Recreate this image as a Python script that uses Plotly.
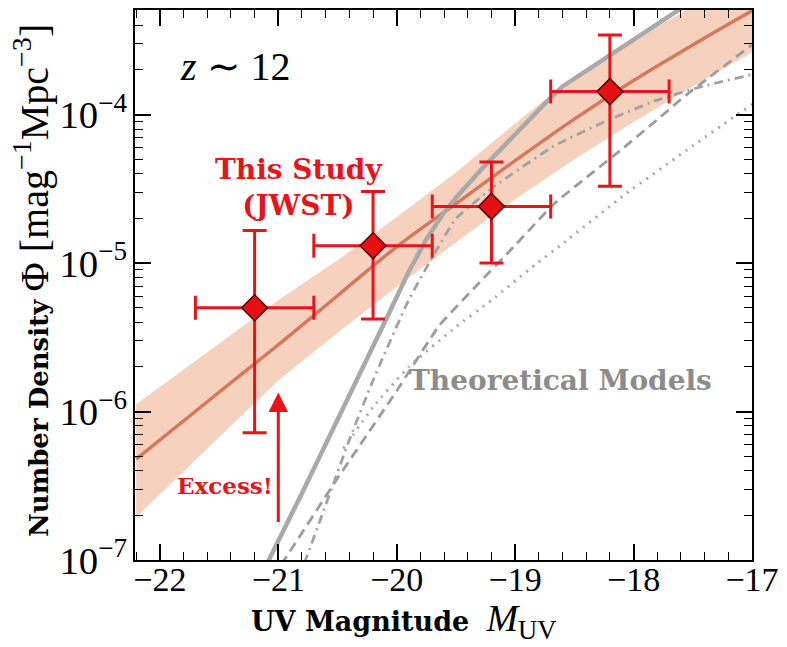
import numpy as np
import plotly.graph_objects as go

# ---------------- data ----------------
# JWST points (UV magnitude, number density, asymmetric errors)
obs_M = [-21.2, -20.2, -19.2, -18.2]
obs_phi = [5.0e-6, 1.31e-5, 2.41e-5, 1.43e-4]
obs_phi_hi = [1.66e-5, 3.04e-5, 4.8e-5, 3.44e-4]
obs_phi_lo = [7.2e-7, 4.2e-6, 1.0e-5, 3.3e-5]
obs_M_err = [0.5, 0.5, 0.5, 0.5]

# best-fit function and its uncertainty band (log10 Phi)
fit_M = [-22.2, -21.5, -21.0, -20.5, -20.0, -19.5, -19.0, -18.5, -18.0, -17.5, -17.0]
fit_log = [-6.32, -5.87, -5.55, -5.22, -4.89, -4.60, -4.31, -4.03, -3.77, -3.53, -3.30]
band_hi_log = [-5.95, -5.54, -5.25, -4.98, -4.69, -4.39, -4.06, -3.74, -3.50, -3.27, -3.03]
band_lo_log = [-6.71, -6.17, -5.79, -5.47, -5.16, -4.86, -4.57, -4.30, -4.05, -3.81, -3.58]

# theoretical models (log10 Phi)
solid_M = [-21.2, -21.08, -20.8, -20.5, -20.25, -20.06, -19.9, -19.75, -19.61, -19.5, -19.275, -19.0, -18.73, -18.6, -18.45, -18.2, -17.9, -17.64, -17.4]
solid_log = [-7.18, -7.0, -6.55, -6.06, -5.65, -5.33, -5.06, -4.84, -4.67, -4.56, -4.36, -4.13, -3.91, -3.81, -3.73, -3.60, -3.44, -3.30, -3.18]

dashed_M = [-21.05, -20.95, -20.5, -20.0, -19.64, -19.3, -19.0, -18.67, -18.33, -18.11, -17.78, -17.56, -17.0]
dashed_log = [-7.12, -7.0, -6.45, -5.86, -5.42, -5.13, -4.88, -4.60, -4.38, -4.24, -4.02, -3.87, -3.53]

dashdot_M = [-20.85, -20.77, -20.39, -20.2, -19.9, -19.67, -19.5, -19.17, -18.67, -18.25, -17.83, -17.42, -17.0]
dashdot_log = [-7.15, -7.0, -6.17, -5.79, -5.25, -4.92, -4.70, -4.48, -4.21, -4.05, -3.91, -3.81, -3.73]

dotted_M = [-20.45, -20.2, -19.9, -19.5, -19.2, -18.83, -18.6, -18.06, -17.5, -17.0]
dotted_log = [-6.25, -5.97, -5.70, -5.43, -5.25, -5.01, -4.87, -4.53, -4.21, -3.93]

# axis settings
x_range = [-22.21, -17.0]
y_log_range = [-7.0, -3.295]

# ---------------- figure ----------------
RED = "#e8141c"
SERIF = "Liberation Serif"
BOLD = "DejaVu Serif"

def pw(v):
    return list(10 ** np.array(v))

fig = go.Figure()

# uncertainty band
fig.add_trace(go.Scatter(x=fit_M, y=pw(band_lo_log), mode="lines",
                         line=dict(width=0, color="rgba(0,0,0,0)"),
                         showlegend=False, hoverinfo="skip"))
fig.add_trace(go.Scatter(x=fit_M, y=pw(band_hi_log), mode="lines",
                         line=dict(width=0, color="rgba(0,0,0,0)"),
                         fill="tonexty", fillcolor="rgba(238,164,126,0.50)",
                         showlegend=False, hoverinfo="skip"))
# best fit line
fig.add_trace(go.Scatter(x=fit_M, y=pw(fit_log), mode="lines",
                         line=dict(color="#d6785c", width=3.5, shape="spline"),
                         showlegend=False))

# theoretical models
fig.add_trace(go.Scatter(x=solid_M, y=pw(solid_log), mode="lines",
                         line=dict(color="#a9a9a9", width=4.5),
                         showlegend=False))
fig.add_trace(go.Scatter(x=dashed_M, y=pw(dashed_log), mode="lines",
                         line=dict(color="#9c9c9c", width=2.8, dash="10px,6px", shape="spline", smoothing=0.4),
                         showlegend=False))
fig.add_trace(go.Scatter(x=dashdot_M, y=pw(dashdot_log), mode="lines",
                         line=dict(color="#a2a2a2", width=2.8, dash="9px,5px,2px,5px", shape="spline", smoothing=0.4),
                         showlegend=False))
fig.add_trace(go.Scatter(x=dotted_M, y=pw(dotted_log), mode="lines",
                         line=dict(color="#a8a8a8", width=3, dash="2px,6px", shape="spline", smoothing=0.4),
                         showlegend=False))

# data points with error bars
err_plus = [h - p for h, p in zip(obs_phi_hi, obs_phi)]
err_minus = [p - l for p, l in zip(obs_phi, obs_phi_lo)]
fig.add_trace(go.Scatter(
    x=obs_M, y=obs_phi, mode="markers",
    marker=dict(symbol="diamond", size=20, color="#e60f12",
                line=dict(color="#5a0000", width=1.5)),
    error_y=dict(type="data", symmetric=False, array=err_plus, arrayminus=err_minus,
                 color=RED, thickness=3, width=12),
    error_x=dict(type="data", array=obs_M_err, color=RED, thickness=3, width=12),
    showlegend=False))

annotations = [
    dict(x=(236 - 135) / 623, y=(560 - 65) / 552, xref="paper", yref="paper",
         text="<i>z</i> ∼ 12", showarrow=False,
         font=dict(family=SERIF, size=40, color="black"), xanchor="center", yanchor="middle"),
    dict(x=-20.83, y=-4.49, xref="x", yref="y",
         text="<b>This Study</b><br><b>(JWST)</b>", showarrow=False,
         font=dict(family=BOLD, size=28, color=RED), xanchor="center", yanchor="middle"),
    dict(x=-18.62, y=-5.79, xref="x", yref="y",
         text="<b>Theoretical Models</b>", showarrow=False,
         font=dict(family=BOLD, size=28, color="#8c8c8c"), xanchor="center", yanchor="middle"),
    dict(x=-21.45, y=-6.5, xref="x", yref="y",
         text="<b>Excess!</b>", showarrow=False,
         font=dict(family=BOLD, size=23, color=RED), xanchor="center", yanchor="middle"),
    dict(x=-21.0, y=-5.872, xref="x", yref="y", text="", showarrow=True,
         ax=0, ay=131, arrowhead=2, arrowsize=1.3, arrowwidth=3, arrowcolor=RED),
    # axis titles
    dict(x=(406 - 135) / 623, y=(560 - 621) / 552, xref="paper", yref="paper",
         text="<b>UV Magnitude</b>  <span style='font-family:Liberation Serif;font-size:38px'><i>M</i><sub>UV</sub></span>",
         showarrow=False, font=dict(family=BOLD, size=27, color="black"),
         xanchor="center", yanchor="middle"),
    dict(x=(30 - 135) / 623, y=(560 - 280) / 552, xref="paper", yref="paper", textangle=-90,
         text="<b>Number Density</b> <span style='font-family:Liberation Serif;font-size:40px'>Φ [mag<sup>−1</sup>Mpc<sup>−3</sup>]</span>",
         showarrow=False, font=dict(family=BOLD, size=26, color="black"),
         xanchor="center", yanchor="middle"),
]

fig.update_layout(
    width=787, height=647,
    margin=dict(l=135, r=29, t=8, b=87),
    plot_bgcolor="white", paper_bgcolor="white",
    showlegend=False,
    annotations=annotations,
    xaxis=dict(range=x_range, tick0=-22, dtick=1, showgrid=False, zeroline=False,
               showline=True, linecolor="black", linewidth=1.5, mirror="allticks",
               ticks="inside", ticklen=16, tickwidth=1.5, tickcolor="black",
               ticklabelstandoff=-12,
               tickfont=dict(family=SERIF, size=34, color="black"),
               minor=dict(dtick=0.2, ticks="inside", ticklen=8, tickwidth=1.2,
                          tickcolor="black", showgrid=False)),
    yaxis=dict(type="log", range=y_log_range, dtick=1, showgrid=False, zeroline=False,
               exponentformat="power", showexponent="all",
               showline=True, linecolor="black", linewidth=1.5, mirror="allticks",
               ticks="inside", ticklen=16, tickwidth=1.5, tickcolor="black",
               tickfont=dict(family=SERIF, size=31, color="black"),
               minor=dict(ticks="inside", ticklen=8, tickwidth=1.2,
                          tickcolor="black", showgrid=False)),
)

fig.write_html("out.html")
